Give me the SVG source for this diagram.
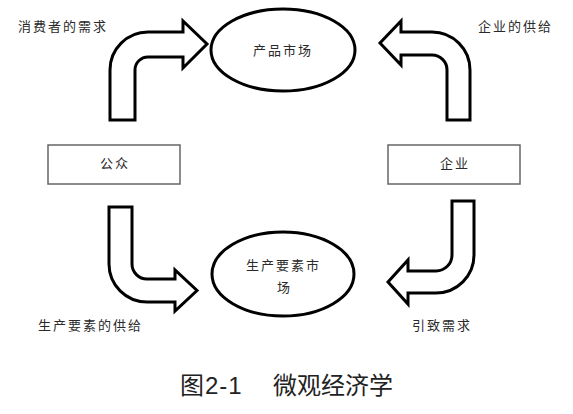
<svg xmlns="http://www.w3.org/2000/svg" width="573" height="414" viewBox="0 0 573 414">
<style>
.bg{fill:#ffffff}
.arrow{fill:#ffffff;stroke:#000000;stroke-width:3;stroke-linejoin:miter}
.market{fill:#ffffff;stroke:#000000;stroke-width:3}
.box{fill:#ffffff;stroke:#666666;stroke-width:1.5}
.t{font-family:"Noto Sans CJK SC","Noto Sans",sans-serif;font-size:13px;letter-spacing:2px;fill:#2a2a2a}
.cap{font-family:"Liberation Sans","Noto Sans CJK SC",sans-serif;font-size:24px;fill:#222222}
</style>
<rect class="bg" x="0" y="0" width="573" height="414"/>
<g id="connectors">
  <path id="arrow-consumer-demand" class="arrow" d="M110,120 L110,70 A38,38 0 0 1 148,32 L183,32 L183,21 L207,44 L183,68 L183,57 L148,57 A13,13 0 0 0 135,70 L135,120 Z"/>
  <path id="arrow-firm-supply" class="arrow" d="M470,120 L470,70 A38,38 0 0 0 432,32 L401,32 L401,21 L380,43 L401,65 L401,55 L432,55 A15,15 0 0 1 447,70 L447,120 Z"/>
  <path id="arrow-factor-supply" class="arrow" d="M109,207 L132,207 L132,264 A15,15 0 0 0 147,279 L175,279 L175,270 L197,290.5 L175,311 L175,302 L147,302 A38,38 0 0 1 109,264 Z"/>
  <path id="arrow-derived-demand" class="arrow" d="M474,201 L452,201 L452,255 A16,16 0 0 1 436,271 L408,271 L408,260 L388,282 L408,304 L408,293 L436,293 A38,38 0 0 0 474,255 Z"/>
</g>
<g id="product-market">
  <ellipse class="market" cx="283" cy="50" rx="72" ry="41"/>
  <text class="t" x="253" y="55">产品市场</text>
</g>
<g id="factor-market">
  <ellipse class="market" cx="283" cy="274" rx="71" ry="42"/>
  <text class="t" x="246" y="270">生产要素市</text>
  <text class="t" x="277" y="292">场</text>
</g>
<g id="public">
  <rect class="box" x="48" y="145" width="132" height="39"/>
  <text class="t" x="100" y="168">公众</text>
</g>
<g id="firm">
  <rect class="box" x="388" y="145" width="132" height="39"/>
  <text class="t" x="440" y="168">企业</text>
</g>
<g id="labels">
  <text class="t" x="18" y="31">消费者的需求</text>
  <text class="t" x="478" y="31">企业的供给</text>
  <text class="t" x="38" y="330">生产要素的供给</text>
  <text class="t" x="412" y="330">引致需求</text>
</g>
<g id="caption">
  <text class="cap" x="180" y="394" letter-spacing="1">图2-1</text>
  <text class="cap" x="273" y="394">微观经济学</text>
</g>
</svg>
